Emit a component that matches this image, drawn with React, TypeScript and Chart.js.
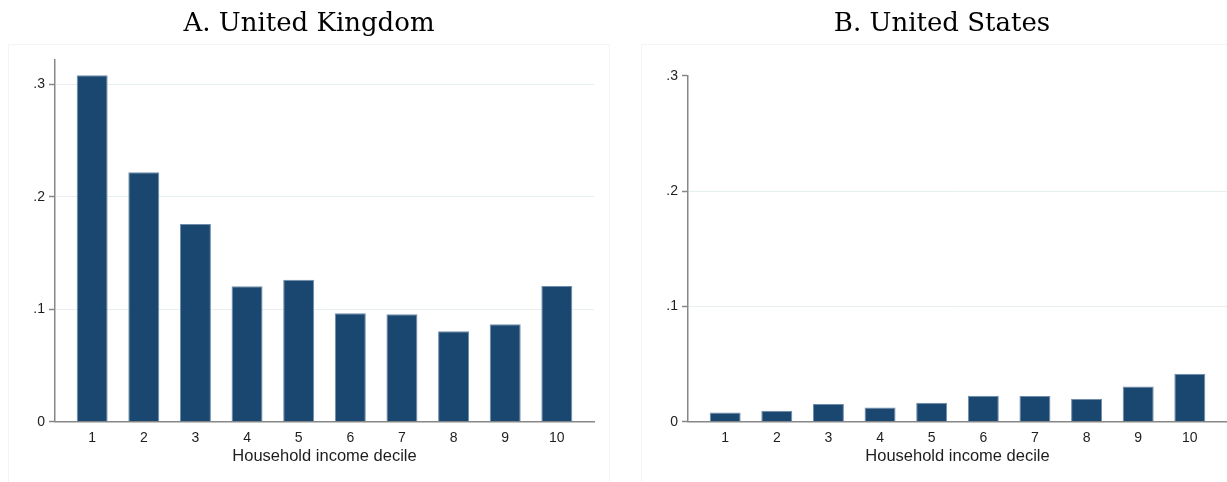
import React, { useEffect, useRef } from "react";
import { Chart, registerables } from "chart.js";

Chart.register(...registerables);

// ---- data ----
const deciles = [1, 2, 3, 4, 5, 6, 7, 8, 9, 10];
const ukValues = [0.308, 0.2217, 0.1757, 0.1204, 0.1262, 0.0964, 0.0955, 0.0804, 0.0866, 0.1206];
const usValues = [0.0079, 0.0094, 0.0153, 0.0123, 0.0164, 0.0226, 0.0223, 0.0196, 0.0305, 0.0416];
const yTicks = [0, 0.1, 0.2, 0.3];
const yTickLabels = ["0", ".1", ".2", ".3"];
const panelTitles = ["A. United Kingdom", "B. United States"];
const xAxisTitle = "Household income decile";

const BAR = "#1a476f";
const BAR_EDGE = "#6f8dab";
const AXIS = "#878787";
const GRID = "#e7eff1";
const TEXT = "#1e1e1e";

type PanelProps = {
  title: string;
  values: number[];
  yMax: number;
  width: number;
  padLeft: number;
  padRight: number;
  titleBottom: number;
};

function Panel({ title, values, yMax, width, padLeft, padRight, titleBottom }: PanelProps) {
  const ref = useRef<HTMLCanvasElement | null>(null);
  useEffect(() => {
    if (!ref.current) return;
    const chart = new Chart(ref.current, {
      type: "bar",
      data: {
        datasets: [
          {
            data: deciles.map((d, i) => ({ x: d, y: values[i] })),
            backgroundColor: BAR,
            borderColor: BAR_EDGE,
            borderWidth: 1,
            barPercentage: 0.6,
            categoryPercentage: 1,
          },
        ],
      },
      options: {
        responsive: false,
        animation: false,
        layout: { padding: { left: padLeft, right: padRight, top: 0, bottom: 0 } },
        plugins: {
          legend: { display: false },
          tooltip: { enabled: false },
          title: {
            display: true,
            text: title,
            color: "#000",
            font: { family: "'DejaVu Serif', 'Liberation Serif', serif", size: 26, weight: "normal" },
            padding: { top: 8.4, bottom: titleBottom },
          },
        },
        scales: {
          x: {
            type: "linear",
            min: 0.28,
            max: 10.72,
            offset: false,
            grid: { display: true, drawOnChartArea: false, drawTicks: false, offset: false },
            border: { color: AXIS, width: 1.5 },
            ticks: {
              autoSkip: false,
              maxRotation: 0,
              padding: 8,
              color: TEXT,
              font: { family: "'Liberation Sans', Arial, sans-serif", size: 14 },
              callback: (v: any) => String(v),
            },
            afterBuildTicks: (s: any) => {
              s.ticks = deciles.map((v) => ({ value: v }));
            },
            afterFit: (s: any) => {
              s.height = 60.3;
            },
            title: {
              display: true,
              text: xAxisTitle,
              color: TEXT,
              font: { family: "'Liberation Sans', Arial, sans-serif", size: 16.5 },
              padding: { top: 0, bottom: 15.4 },
            },
          },
          y: {
            type: "linear",
            min: 0,
            max: yMax,
            grid: {
              color: (ctx: any) => {
                const v = ctx.tick ? ctx.tick.value : 0;
                if (v === 0 || v >= yMax - 1e-9) return "rgba(0,0,0,0)";
                return GRID;
              },
              lineWidth: 1,
              drawTicks: true,
              tickLength: 6,
              tickColor: AXIS,
              tickWidth: 1.5,
            },
            border: { color: AXIS, width: 1.5 },
            ticks: {
              padding: 4,
              color: TEXT,
              font: { family: "'Liberation Sans', Arial, sans-serif", size: 14 },
              callback: (v: any) => {
                const idx = yTicks.findIndex((t) => Math.abs(t - Number(v)) < 1e-9);
                return idx >= 0 ? yTickLabels[idx] : "";
              },
            },
            afterBuildTicks: (s: any) => {
              s.ticks = yTicks.map((v) => ({ value: v }));
            },
            afterFit: (s: any) => {
              s.width = 31;
            },
          },
        },
      } as any,
    });
    return () => chart.destroy();
  }, [title, values, yMax, width, padLeft, padRight, titleBottom]);
  return <canvas ref={ref} width={width} height={482} style={{ display: "block" }} />;
}

export default function App() {
  const frame = "1px solid #f2f5f7";
  return (
    <div
      style={{
        position: "absolute",
        left: 0,
        top: 0,
        width: 1227,
        height: 482,
        overflow: "hidden",
        background: "#fff",
      }}
    >
      <div style={{ position: "absolute", left: 8, top: 44, width: 600, height: 440, borderTop: frame, borderLeft: frame, borderRight: frame }} />
      <div style={{ position: "absolute", left: 641, top: 44, width: 600, height: 440, borderTop: frame, borderLeft: frame, borderRight: frame }} />
      <div style={{ position: "absolute", left: 0, top: 0 }}>
        <Panel title={panelTitles[0]} values={ukValues} yMax={0.3215} width={614} padLeft={24} padRight={20} titleBottom={20.4} />
      </div>
      <div style={{ position: "absolute", left: 640, top: 0 }}>
        <Panel title={panelTitles[1]} values={usValues} yMax={0.3} width={587} padLeft={17} padRight={0} titleBottom={36.1} />
      </div>
    </div>
  );
}
